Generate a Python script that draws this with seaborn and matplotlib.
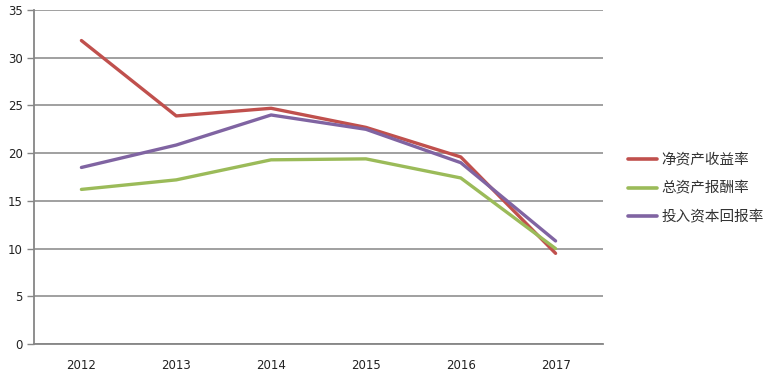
import matplotlib
matplotlib.use("Agg")
import matplotlib.pyplot as plt
import seaborn as sns
import pandas as pd
from matplotlib.ticker import FixedLocator
from matplotlib.lines import Line2D

years = ["2012", "2013", "2014", "2015", "2016", "2017"]
series_names = ["净资产收益率", "总资产报酬率", "投入资本回报率"]
roe = [31.8, 23.9, 24.7, 22.7, 19.6, 9.5]
rota = [16.2, 17.2, 19.3, 19.4, 17.4, 10.0]
roic = [18.5, 20.85, 24.0, 22.5, 19.0, 10.8]
colors = ["#C0504D", "#9BBB59", "#8064A2"]
y_ticks = [0, 5, 10, 15, 20, 25, 30, 35]

sns.set_theme(style="white")
plt.rcParams["font.family"] = ["DejaVu Sans", "Noto Sans CJK SC"]

rows = []
for name, vals in zip(series_names, [roe, rota, roic]):
    for i, (y, v) in enumerate(zip(years, vals)):
        rows.append({"idx": i, "year": y, "value": v, "series": name})
df = pd.DataFrame(rows)

fig = plt.figure(figsize=(7.73, 3.78), dpi=100)
ax = fig.add_axes([34 / 773, 34 / 378, (603 - 34) / 773, (344 - 10) / 378])

sns.lineplot(data=df, x="idx", y="value", hue="series", hue_order=series_names,
             palette=colors, linewidth=2.4, ax=ax, legend=False, zorder=3)

ax.set_xlim(-0.5, 5.5)
ax.set_ylim(0, 35)
ax.set_yticks(y_ticks)
ax.set_yticklabels([str(t) for t in y_ticks], fontsize=8.5, color="#222222")
ax.set_xticks(range(len(years)))
ax.set_xticklabels(years, fontsize=8.5, color="#222222")
ax.xaxis.set_minor_locator(FixedLocator([i - 0.5 for i in range(len(years) + 1)]))
ax.tick_params(axis="x", which="major", length=0, pad=11)
ax.tick_params(axis="x", which="minor", length=5, width=1, color="#868686", direction="out")
ax.tick_params(axis="y", length=5, width=1, color="#868686", direction="out", left=True, pad=3)
ax.set_xlabel("")
ax.set_ylabel("")

ax.grid(axis="y", color="#868686", linewidth=1.1, zorder=0)
ax.set_axisbelow(True)
for s in ["top", "right"]:
    ax.spines[s].set_visible(False)
for s in ["left", "bottom"]:
    ax.spines[s].set_color("#868686")
    ax.spines[s].set_linewidth(1.3)

handles = [Line2D([0], [0], color=c, linewidth=2.6) for c in colors]
fig.legend(handles, series_names, loc="upper left", bbox_to_anchor=(615 / 773, 1 - 140 / 378),
           frameon=False, handlelength=1.95, handletextpad=0.35,
           labelspacing=1.0, labelcolor="#333333",
           prop={"family": ["Noto Sans CJK SC"], "size": 10.5})

fig.savefig("out.png", dpi=100)
